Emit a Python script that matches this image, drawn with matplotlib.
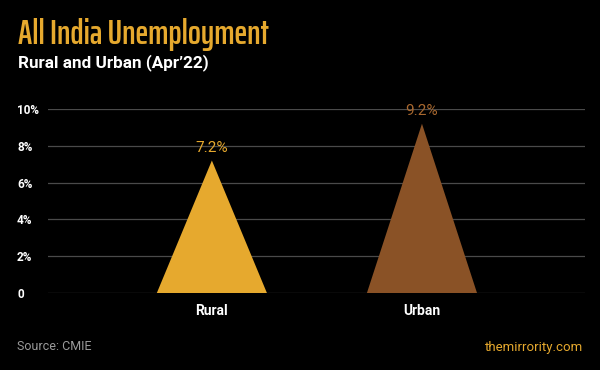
import matplotlib as mpl
import matplotlib.pyplot as plt

mpl.rcParams['font.family'] = ['Roboto', 'DejaVu Sans']

categories = ['Rural', 'Urban']
values = [7.2, 9.2]
value_labels = ['7.2%', '9.2%']
colors = ['#E6A92E', '#8A5226']
label_colors = ['#E6A92E', '#A8682F']
yticks = [0, 2, 4, 6, 8, 10]
ytick_labels = ['0', '2%', '4%', '6%', '8%', '10%']

fig = plt.figure(figsize=(6, 3.7), dpi=100, facecolor='black')
ax = fig.add_axes([48 / 600, 1 - 293 / 370, (585 - 48) / 600, (293 - 109) / 370])
ax.set_facecolor('black')

# triangles: base width half of category spacing, apex at the value
half = 0.262
for i, (v, c) in enumerate(zip(values, colors)):
    ax.fill([i - half, i, i + half], [0, v, 0], color=c, lw=0, zorder=3)
    ax.text(i, v + 0.3, value_labels[i], ha='center', va='bottom',
            color=label_colors[i], fontsize=11, zorder=4)

ax.set_xlim(-0.78, 1.776)
ax.set_ylim(0, 10)
ax.set_yticks(yticks)
ax.set_yticklabels(ytick_labels)
ax.set_xticks(range(len(categories)))
ax.set_xticklabels(categories)
ax.grid(axis='y', color='#4a4a4a', lw=0.9, zorder=0)
ax.tick_params(axis='y', length=0, pad=22.3, labelcolor='white', labelsize=8.5)
ax.tick_params(axis='x', length=0, pad=8, labelcolor='white', labelsize=10)
for lbl in ax.get_yticklabels():
    lbl.set_ha('left')
    lbl.set_fontweight('bold')
for lbl in ax.get_xticklabels():
    lbl.set_fontweight('bold')
for s in ax.spines.values():
    s.set_visible(False)

fig.text(18 / 600, 1 - 44 / 370, 'All India Unemployment', color='#E6A92E',
         fontsize=24.5, fontweight='semibold', va='baseline',
         family=['Saira ExtraCondensed', 'Roboto Condensed', 'DejaVu Sans'])
fig.text(18 / 600, 1 - 63 / 370, "Rural and Urban (Apr’22)", color='white',
         fontsize=12.3, fontweight='bold', va='center')
fig.text(17 / 600, 1 - 347 / 370, 'Source: CMIE', color='#9a9a9a',
         fontsize=9, va='center')
fig.text(583 / 600, 1 - 347 / 370, 'themirrority.com', color='#E6A92E',
         fontsize=9.5, va='center', ha='right')

plt.savefig('out.png', dpi=100, facecolor='black')
